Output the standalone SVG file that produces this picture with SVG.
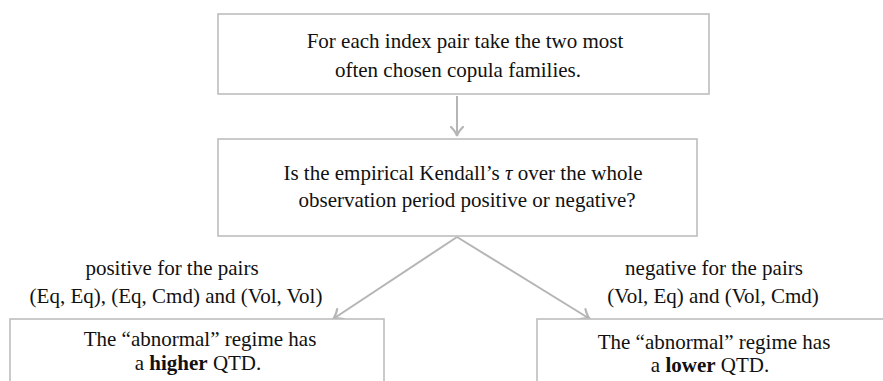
<svg xmlns="http://www.w3.org/2000/svg" width="883" height="381" viewBox="0 0 883 381">
<style>
.box{fill:#fff;stroke:#bdbdbd;stroke-width:1.6}
.c{stroke:#b5b5b5;stroke-width:2;fill:none}
</style>
<defs>
<marker id="ah" markerUnits="userSpaceOnUse" markerWidth="20" markerHeight="20" refX="0" refY="0" viewBox="-12 -10 14 20" orient="auto">
<path d="M-9,-6 Q-4,-1 0,0 Q-4,1 -9,6" fill="none" stroke="#b5b5b5" stroke-width="2.2" stroke-linecap="round"/>
</marker>
</defs>
<rect width="883" height="381" fill="#fff"/>
<g id="connectors">
<line class="c" x1="457" y1="96" x2="457" y2="136" marker-end="url(#ah)"/>
<line class="c" x1="457" y1="237" x2="333" y2="319" marker-end="url(#ah)"/>
<line class="c" x1="457" y1="237" x2="590" y2="319" marker-end="url(#ah)"/>
</g>
<g id="n1">
<rect class="box" x="218" y="14" width="491" height="80"/>
<text font-family="Liberation Serif, serif" font-size="21" fill="#111" text-anchor="middle" x="465" y="48">For each index pair take the two most</text>
<text font-family="Liberation Serif, serif" font-size="21" fill="#111" text-anchor="middle" x="458" y="77">often chosen copula families.</text>
</g>
<g id="n2">
<rect class="box" x="218" y="139" width="479" height="97"/>
<text font-family="Liberation Serif, serif" font-size="21" fill="#111" text-anchor="middle" x="463" y="180">Is the empirical Kendall&#8217;s <tspan font-style="italic">&#964;</tspan> over the whole</text>
<text font-family="Liberation Serif, serif" font-size="21" fill="#111" text-anchor="middle" x="467" y="207">observation period positive or negative?</text>
</g>
<g id="lbl-pos">
<text font-family="Liberation Serif, serif" font-size="21" fill="#111" text-anchor="middle" x="172" y="275">positive for the pairs</text>
<text font-family="Liberation Serif, serif" font-size="21" fill="#111" text-anchor="middle" x="176" y="303">(Eq, Eq), (Eq, Cmd) and (Vol, Vol)</text>
</g>
<g id="lbl-neg">
<text font-family="Liberation Serif, serif" font-size="21" fill="#111" text-anchor="middle" x="714" y="275">negative for the pairs</text>
<text font-family="Liberation Serif, serif" font-size="21" fill="#111" text-anchor="middle" x="713" y="303">(Vol, Eq) and (Vol, Cmd)</text>
</g>
<g id="n3">
<rect class="box" x="10" y="319" width="374" height="90"/>
<text font-family="Liberation Serif, serif" font-size="21" fill="#111" text-anchor="middle" x="200" y="346">The &#8220;abnormal&#8221; regime has</text>
<text font-family="Liberation Serif, serif" font-size="21" fill="#111" text-anchor="middle" x="198" y="370">a <tspan font-weight="bold">higher</tspan> QTD.</text>
</g>
<g id="n4">
<rect class="box" x="537" y="319" width="360" height="90"/>
<text font-family="Liberation Serif, serif" font-size="21" fill="#111" text-anchor="middle" x="714" y="349">The &#8220;abnormal&#8221; regime has</text>
<text font-family="Liberation Serif, serif" font-size="21" fill="#111" text-anchor="middle" x="710" y="372">a <tspan font-weight="bold">lower</tspan> QTD.</text>
</g>
</svg>
